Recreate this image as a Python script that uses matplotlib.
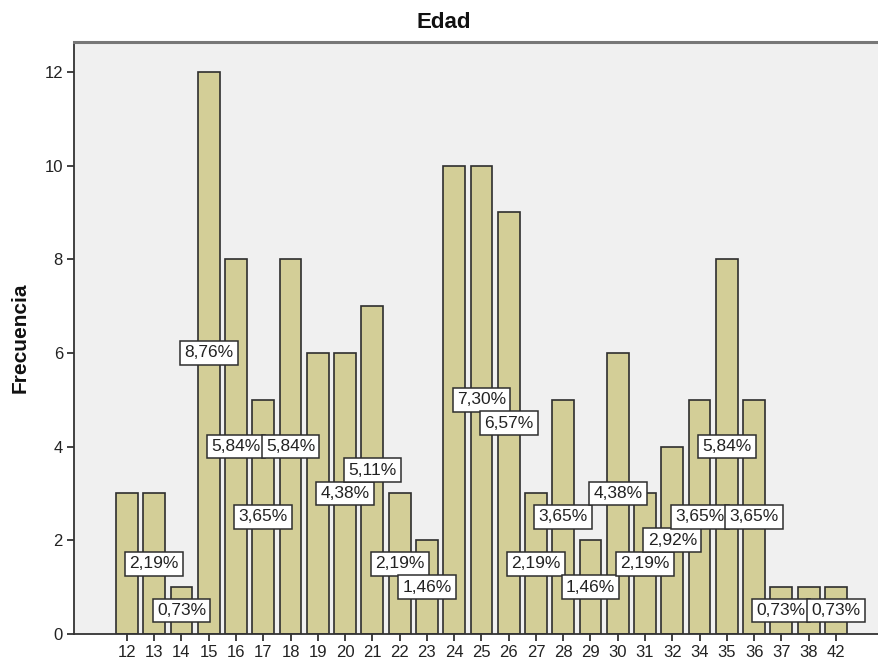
import matplotlib
matplotlib.use('Agg')
import matplotlib.pyplot as plt
import numpy as np

plt.rcParams['font.family'] = ['Liberation Sans', 'DejaVu Sans']

# Edad -> Frecuencia
edades = ['12', '13', '14', '15', '16', '17', '18', '19', '20', '21', '22', '23', '24',
          '25', '26', '27', '28', '29', '30', '31', '32', '34', '35', '36', '37', '38', '42']
frecuencia = [3, 3, 1, 12, 8, 5, 8, 6, 6, 7, 3, 2, 10,
              10, 9, 3, 5, 2, 6, 3, 4, 5, 8, 5, 1, 1, 1]
# labels that SPSS dropped because of overlap
ocultas = ['12', '19', '24', '38']

total = sum(frecuencia)
pct = [100 * f / total for f in frecuencia]

fig = plt.figure(figsize=(8.79, 6.66), dpi=100)
ax = fig.add_axes([74 / 879, 1 - 634 / 666, 1 - 74 / 879, (634 - 42) / 666])
ax.set_facecolor('#f0f0f0')

x = np.arange(len(edades))
ax.bar(x, frecuencia, width=0.8, color='#d3ce97', edgecolor='#2e2e2e', linewidth=1.2, zorder=2)

for i, (f, p) in enumerate(zip(frecuencia, pct)):
    if edades[i] in ocultas:
        continue
    txt = f'{p:.2f}%'.replace('.', ',')
    ax.text(x[i], f / 2, txt, ha='center', va='center', fontsize=12.5, color='#222222',
            zorder=3 + i,
            bbox=dict(boxstyle='square,pad=0.25', facecolor='white',
                      edgecolor='#2e2e2e', linewidth=1.1))

ax.set_xlim(-1.94, len(edades) - 1 + 1.58)
ax.set_ylim(0, 12.64)
ax.set_xticks(x, edades)
ax.set_yticks(range(0, 13, 2))
ax.tick_params(axis='both', labelsize=12, length=5, width=1.3, color='#333333',
               labelcolor='#222222', direction='out', pad=3)

for s in ['left', 'bottom']:
    ax.spines[s].set_color('#333333')
    ax.spines[s].set_linewidth(1.3)
ax.spines['top'].set_color('#777777')
ax.spines['top'].set_linewidth(2.2)
ax.spines['right'].set_visible(False)

fig.text(444 / 879, 1 - 23 / 666, 'Edad', ha='center', va='center',
         fontsize=16, fontweight='bold', color='#111111')
fig.text(20 / 879, 1 - 338 / 666, 'Frecuencia', ha='center', va='center',
         rotation=90, fontsize=15, fontweight='bold', color='#111111')

fig.savefig('out.png', dpi=100)
